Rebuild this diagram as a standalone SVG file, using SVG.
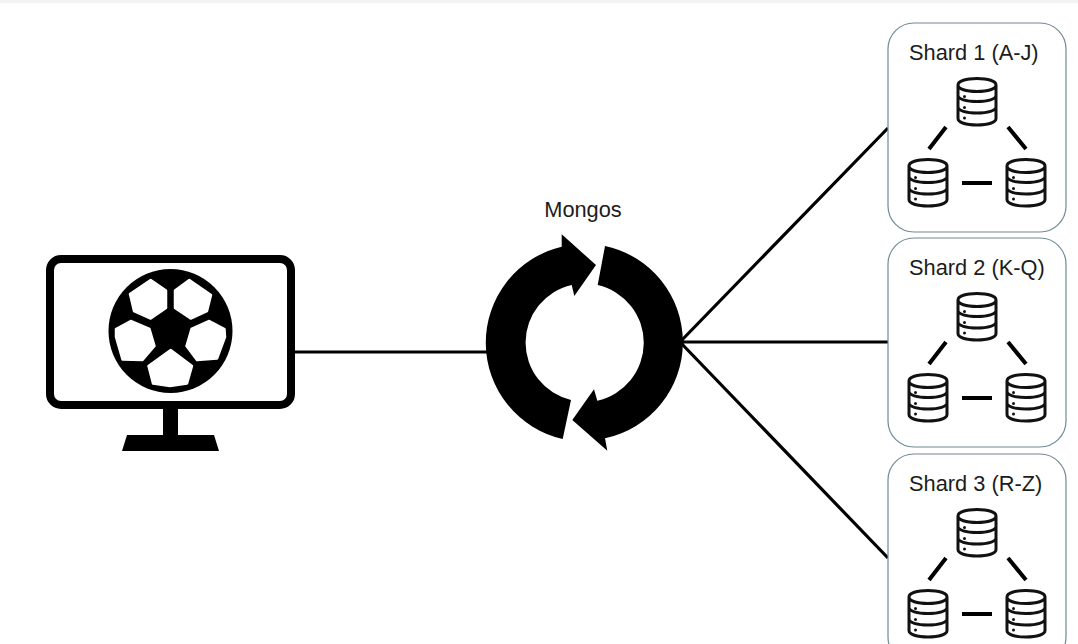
<svg xmlns="http://www.w3.org/2000/svg" width="1078" height="644" viewBox="0 0 1078 644">
<style>
.lbl{font-family:"Liberation Sans",Arial,sans-serif;font-size:21.800px;fill:#1c1c1c}
.box{fill:#fff;stroke:#6f8a96;stroke-width:1.200}
.link{stroke:#000;stroke-width:3.200;fill:none}
.inner{stroke:#000;stroke-width:4;fill:none}
.dbs{fill:none;stroke:#111;stroke-width:3;stroke-linejoin:round}
.pent{fill:#fff;stroke:#fff;stroke-width:2.500;stroke-linejoin:round}
</style>
<defs>
<g id="db">
<path class="dbs" d="M1 7C1 3 9 .5 20 .5S39 3 39 7V40.500C39 44.500 31 47 20 47S1 44.500 1 40.500ZM1 7C1 11 9 13.500 20 13.500S39 11 39 7M1 17.500C1 21 9 23.500 20 23.500S39 21 39 17.500M1 29C1 32.500 9 35 20 35S39 32.500 39 29"/>
<circle cx="7.500" cy="18.500" r="1.500" fill="#111"/><circle cx="7.500" cy="29.500" r="1.500" fill="#111"/><circle cx="7.500" cy="40" r="1.500" fill="#111"/>
</g>
<g id="cluster">
<use href="#db" x="957" y="78"/><use href="#db" x="908" y="159"/><use href="#db" x="1006" y="159"/>
<path class="inner" d="M946 127L929 149M1008 127L1026 149M962 183H992"/>
</g>
</defs>
<rect width="1078" height="644" fill="#fff"/>
<rect width="1078" height="3" fill="#f3f3f3"/>
<g id="connectors">
<path class="link" d="M295 352H488M680 342L888 128M680 342H888M680 342L888 558"/>
</g>
<g id="client">
<rect x="50" y="259" width="241" height="146" rx="11" fill="#fff" stroke="#000" stroke-width="8"/>
<path d="M163 408H178V435H214L219 451H122L127 435H163Z" fill="#000"/>
<circle cx="170.500" cy="331" r="62" fill="#000"/>
<path class="pent" d="M150.700 280L166 290.500V308L150.700 318.500L134 311L130 294Z"/>
<path class="pent" d="M189.300 280L211 295L207 311L190.700 318.500L175 308V290.500Z"/>
<path class="pent" d="M130.700 321L149.500 329L154.500 346L142.500 360L122.500 359.500L116 337V329Z"/>
<path class="pent" d="M209.300 321L224.500 329L225 337L217 358.500L197 360L186.500 346L191.500 329Z"/>
<path class="pent" d="M170.700 350L192 366L187 383.500L170 386L153 383.500L148.500 366Z"/>
</g>
<g id="mongos">
<path d="M562.700 439A98.700 98.700 0 0 1 561.700 246.700L561.700 234.300L596 265L574.300 296L571.700 285A59 59 0 0 0 571 400Z" fill="#000"/>
<path d="M605 246A98.300 98.300 0 0 1 605 438.300L607.300 450.700L572.300 420L594 389.300L597.300 400.700A59.300 59.300 0 0 0 597.700 285Z" fill="#000"/>
<text class="lbl" x="583" y="217" text-anchor="middle">Mongos</text>
</g>
<g id="shard1">
<rect class="box" x="888" y="23" width="178" height="209" rx="26"/>
<text class="lbl" x="909" y="60">Shard 1 (A-J)</text>
<use href="#cluster"/>
</g>
<g id="shard2">
<rect class="box" x="888" y="238" width="178" height="209" rx="26"/>
<text class="lbl" x="909" y="275">Shard 2 (K-Q)</text>
<use href="#cluster" y="215"/>
</g>
<g id="shard3">
<rect class="box" x="888" y="454" width="178" height="209" rx="26"/>
<text class="lbl" x="909" y="491">Shard 3 (R-Z)</text>
<use href="#cluster" y="431"/>
</g>
</svg>
